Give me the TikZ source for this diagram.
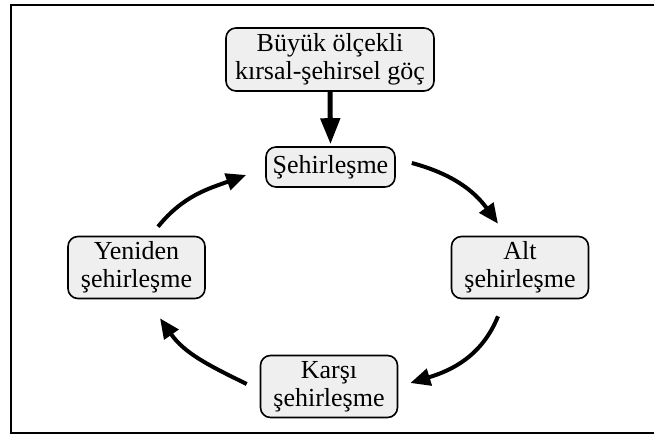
\documentclass[tikz,border=0pt]{standalone}
\usepackage{fontspec}
\setmainfont{Liberation Serif}
\usetikzlibrary{arrows.meta}
\definecolor{boxgray}{RGB}{239,239,239}

\begin{document}
\begin{tikzpicture}[x=1pt,y=1pt,
  stage/.style={draw,line width=1.6pt,rounded corners=10pt,fill=boxgray,align=center,
    inner xsep=6pt,inner ysep=4pt,font=\fontsize{26}{28}\selectfont},
  twoline/.style={stage,minimum width=137pt,minimum height=62pt},
  flow/.style={line width=4pt,-{Triangle[length=20pt,width=17pt]}}]
\useasboundingbox (0,0) rectangle (654,436);
\draw[line width=2.5pt] (660,431)--(11,431)--(11,3)--(660,3);
\node[stage,minimum width=208pt,minimum height=63pt] (mig) at (330,376.5) {Büyük ölçekli\\kırsal-şehirsel göç};
\node[stage,minimum width=129pt,minimum height=40pt] (seh) at (330.5,269) {Şehirleşme};
\node[twoline] (alt) at (520,168.5) {Alt\\şehirleşme};
\node[twoline] (kar) at (329,49.5) {Karşı\\şehirleşme};
\node[twoline] (yen) at (136.5,168.5) {Yeniden\\şehirleşme};
\draw[line width=5pt,-{Triangle[length=26pt,width=19pt]}] (mig.south) -- ([yshift=2pt]seh.north);
\draw[flow] ([xshift=16pt,yshift=4pt]seh.east) to[out=-15,in=126] ([xshift=-22pt,yshift=12pt]alt.north);
\draw[flow] ([xshift=-22pt,yshift=-17pt]alt.south) to[out=-112,in=17] ([xshift=12pt,yshift=3.5pt]kar.east);
\draw[flow] ([xshift=-13pt,yshift=2.5pt]kar.west) to[out=154,in=-55] ([xshift=23.5pt,yshift=-19pt]yen.south);
\draw[flow] ([xshift=21.5pt,yshift=9pt]yen.north) to[out=51,in=200] ([xshift=-19pt,yshift=-8pt]seh.west);
\end{tikzpicture}
\end{document}
